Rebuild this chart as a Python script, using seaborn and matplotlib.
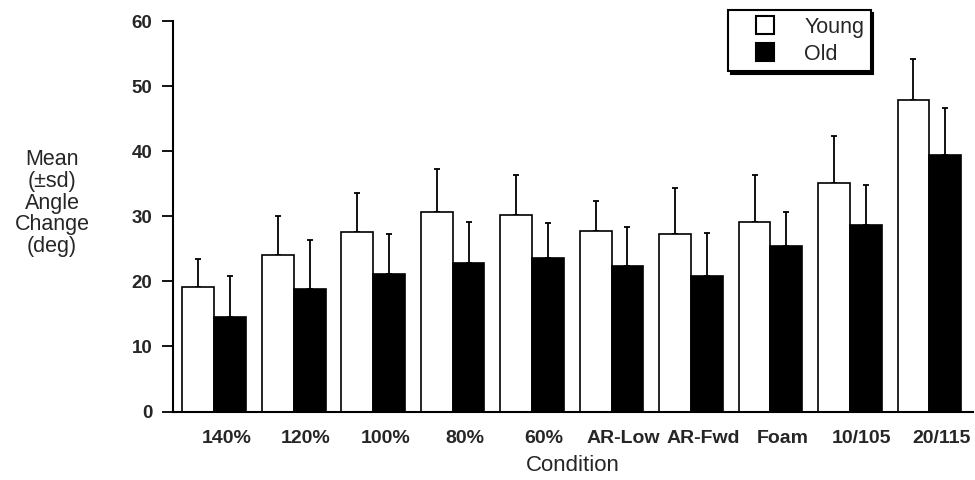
import matplotlib
matplotlib.use("Agg")
import matplotlib.pyplot as plt
import matplotlib.transforms as mtransforms
from matplotlib.lines import Line2D
import numpy as np
import pandas as pd
import seaborn as sns

# values
conditions = ["140%", "120%", "100%", "80%", "60%", "AR-Low", "AR-Fwd", "Foam", "10/105", "20/115"]
young_mean = [19.1, 24.0, 27.6, 30.7, 30.2, 27.8, 27.3, 29.2, 35.1, 47.9]
young_sd = [4.3, 6.0, 6.0, 6.5, 6.2, 4.6, 7.0, 7.2, 7.3, 6.3]
old_mean = [14.6, 18.9, 21.1, 22.9, 23.6, 22.3, 20.8, 25.4, 28.7, 39.4]
old_sd = [6.3, 7.5, 6.2, 6.2, 5.4, 6.0, 6.6, 5.2, 6.1, 7.3]
groups = ["Young", "Old"]
colors = {"Young": "white", "Old": "black"}

df = pd.DataFrame({
    "Condition": conditions * 2,
    "Group": ["Young"] * len(conditions) + ["Old"] * len(conditions),
    "Angle": young_mean + old_mean,
})

sns.set_theme(style="white")
plt.rcParams["font.family"] = ["Liberation Sans", "DejaVu Sans"]

fig = plt.figure(figsize=(9.75, 4.8), dpi=100)
ax = fig.add_axes([0.1774, 0.1427, 0.8206, 0.8133])

sns.barplot(data=df, x="Condition", y="Angle", hue="Group", hue_order=groups,
            palette=colors, edgecolor="black", linewidth=1.2, width=0.8,
            errorbar=None, legend=False, ax=ax)

# upward-only error bars at the bar centres
bars = [p for p in ax.patches if p.get_height() > 0]
n = len(conditions)
sds = young_sd + old_sd
means = young_mean + old_mean
xs = [b.get_x() + b.get_width() / 2 for b in bars[:2 * n]]
ax.errorbar(xs, means, yerr=[np.zeros(2 * n), sds], fmt="none", ecolor="black",
            elinewidth=1.3, capsize=2.5, capthick=1.3, zorder=0)

ax.set_ylim(0, 60)
ax.set_xlim(-0.52, 9.55)
ax.set_yticks(range(0, 61, 10))
for s in ["top", "right"]:
    ax.spines[s].set_visible(False)
for s in ["left", "bottom"]:
    ax.spines[s].set_color("black")
    ax.spines[s].set_linewidth(1.5)

ax.tick_params(axis="y", length=8, width=1.3, color="black", pad=7, labelsize=13.5, left=True)
ax.tick_params(axis="x", length=0, pad=13, labelsize=14)
for lbl in ax.get_yticklabels():
    lbl.set_fontweight("bold")
for lbl in ax.get_xticklabels():
    lbl.set_fontweight("bold")
    lbl.set_transform(lbl.get_transform() + mtransforms.ScaledTranslation(12 / 100, 0, fig.dpi_scale_trans))

ax.set_xlabel("Condition", fontsize=16, labelpad=6)
ax.set_ylabel("Mean\n(\u00b1sd)\nAngle\nChange\n(deg)", rotation=0, fontsize=15.5,
              ha="center", va="center", linespacing=1.05)
ax.yaxis.set_label_coords(-0.151, 0.534)

# legend: square markers centred in a wide handle box
handles = [Line2D([], [], ls="none", marker="s", markersize=13, markerfacecolor=colors[g],
                  markeredgecolor="black", markeredgewidth=1.5) for g in groups]
leg = fig.legend(handles, groups, loc="upper right", bbox_to_anchor=(0.893, 0.979),
                 borderaxespad=0, fontsize=15.5, handlelength=2.9,
                 handletextpad=0.35, borderpad=0.3, labelspacing=0.3,
                 fancybox=False, shadow={"color": "black", "alpha": 1},
                 edgecolor="black", framealpha=1)
leg.get_frame().set_linewidth(1.5)

fig.savefig("out.png", dpi=100)
